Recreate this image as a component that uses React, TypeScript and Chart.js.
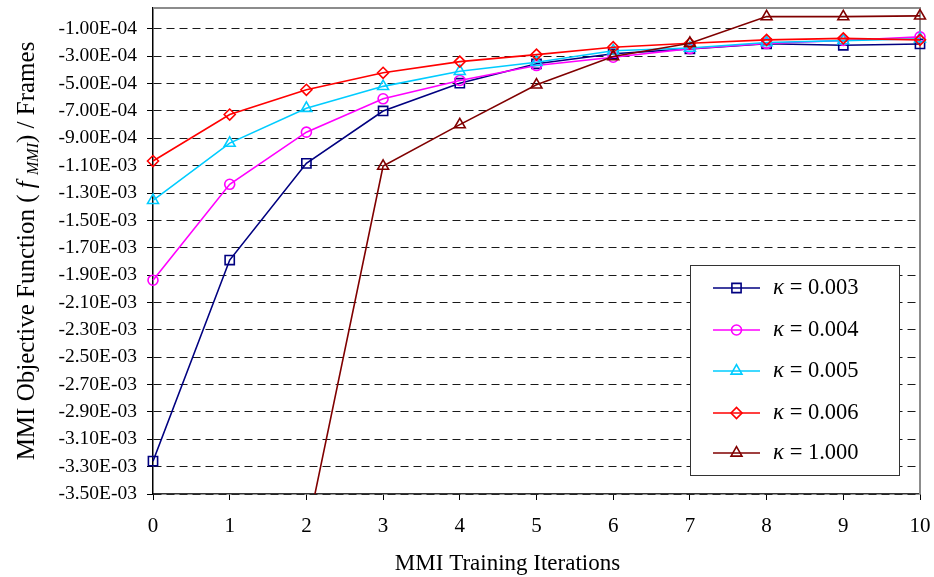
import React, { useEffect, useRef } from "react";
import { Chart, registerables } from "chart.js";

Chart.register(...registerables);

const FONT = "'Liberation Serif', 'Times New Roman', serif";

const iterations = ["0", "1", "2", "3", "4", "5", "6", "7", "8", "9", "10"];

const kappa003 = [-3.26e-3, -1.79e-3, -1.083e-3, -7.0e-4, -4.97e-4, -3.55e-4, -2.82e-4, -2.46e-4, -2.09e-4, -2.2e-4, -2.1e-4];
const kappa004 = [-1.937e-3, -1.236e-3, -8.55e-4, -6.11e-4, -4.77e-4, -3.68e-4, -3.07e-4, -2.44e-4, -2.07e-4, -1.85e-4, -1.58e-4];
const kappa005 = [-1.353e-3, -9.35e-4, -6.8e-4, -5.2e-4, -4.1e-4, -3.44e-4, -2.6e-4, -2.4e-4, -2.0e-4, -1.86e-4, -1.72e-4];
const kappa006 = [-1.066e-3, -7.26e-4, -5.45e-4, -4.21e-4, -3.39e-4, -2.88e-4, -2.34e-4, -2.05e-4, -1.8e-4, -1.69e-4, -1.8e-4];
const kappa1000 = [null, null, -3.8e-3, -1.103e-3, -8.0e-4, -5.09e-4, -3.02e-4, -2.05e-4, -1.0e-5, -1.0e-5, -5e-6];

const seriesKappas = ["0.003", "0.004", "0.005", "0.006", "1.000"];

const yTickValues = [
  -3.5e-3, -3.3e-3, -3.1e-3, -2.9e-3, -2.7e-3, -2.5e-3, -2.3e-3, -2.1e-3, -1.9e-3,
  -1.7e-3, -1.5e-3, -1.3e-3, -1.1e-3, -9e-4, -7e-4, -5e-4, -3e-4, -1e-4,
];

function formatSci(v: number): string {
  const [m, e] = v.toExponential(2).split("e");
  const n = parseInt(e, 10);
  return m + "E" + (n < 0 ? "-" : "+") + String(Math.abs(n)).padStart(2, "0");
}

function drawMarker(ctx: CanvasRenderingContext2D, style: string, x: number, y: number, r: number) {
  ctx.beginPath();
  if (style === "rect") {
    const s = Math.SQRT1_2 * r;
    ctx.rect(x - s, y - s, 2 * s, 2 * s);
  } else if (style === "circle") {
    ctx.arc(x, y, r, 0, Math.PI * 2);
  } else if (style === "triangle") {
    let rad = 0;
    ctx.moveTo(x + Math.sin(rad) * r, y - Math.cos(rad) * r);
    rad += (2 * Math.PI) / 3;
    ctx.lineTo(x + Math.sin(rad) * r, y - Math.cos(rad) * r);
    rad += (2 * Math.PI) / 3;
    ctx.lineTo(x + Math.sin(rad) * r, y - Math.cos(rad) * r);
    ctx.closePath();
  } else if (style === "rectRot") {
    ctx.moveTo(x - r, y);
    ctx.lineTo(x, y - r);
    ctx.lineTo(x + r, y);
    ctx.lineTo(x, y + r);
    ctx.closePath();
  }
  ctx.stroke();
}

const decorPlugin = {
  id: "decor",
  beforeDatasetsDraw(chart: any) {
    const { ctx, chartArea } = chart;
    ctx.save();
    ctx.strokeStyle = "#8c8c8c";
    ctx.lineWidth = 2;
    ctx.beginPath();
    ctx.moveTo(chartArea.left, chartArea.top);
    ctx.lineTo(chartArea.right, chartArea.top);
    ctx.lineTo(chartArea.right, chartArea.bottom);
    ctx.stroke();
    ctx.restore();
  },
  afterDraw(chart: any) {
    const { ctx } = chart;
    ctx.save();
    // Legend
    const bx = 690, by = 265, bw = 209, bh = 210;
    ctx.fillStyle = "#ffffff";
    ctx.fillRect(bx, by, bw, bh);
    ctx.strokeStyle = "#333";
    ctx.lineWidth = 1;
    ctx.strokeRect(bx + 0.5, by + 0.5, bw, bh);
    const rowYs = [288, 330, 371, 413, 453];
    chart.data.datasets.forEach((ds: any, i: number) => {
      const y = rowYs[i];
      ctx.strokeStyle = ds.borderColor;
      ctx.lineWidth = 1.6;
      ctx.beginPath();
      ctx.moveTo(713, y);
      ctx.lineTo(760, y);
      ctx.stroke();
      drawMarker(ctx, ds.pointStyle, 736.5, y, ds.pointRadius);
      ctx.fillStyle = "#000";
      ctx.textBaseline = "middle";
      ctx.textAlign = "left";
      ctx.font = `italic 23px ${FONT}`;
      ctx.fillText("\u03ba", 773, y);
      const kw = ctx.measureText("\u03ba").width;
      ctx.font = `22.5px ${FONT}`;
      ctx.fillText(" = " + seriesKappas[i], 773 + kw, y);
    });

    // X title
    ctx.fillStyle = "#000";
    ctx.font = `23px ${FONT}`;
    ctx.textAlign = "center";
    ctx.textBaseline = "alphabetic";
    ctx.fillText("MMI Training Iterations", 507.5, 570);

    // Y title (rotated, with italic subscript)
    const parts: [string, string, number][] = [
      ["MMI Objective Function ( ", `25px ${FONT}`, 0],
      ["f", `italic 25px ${FONT}`, 0],
      [" ", `25px ${FONT}`, 0],
      ["MMI", `italic 16px ${FONT}`, 4],
      [") / Frames", `25px ${FONT}`, 0],
    ];
    let total = 0;
    const widths = parts.map(([t, f]) => {
      ctx.font = f;
      const w = ctx.measureText(t).width;
      total += w;
      return w;
    });
    ctx.translate(34, 251);
    ctx.rotate(-Math.PI / 2);
    ctx.textAlign = "left";
    ctx.textBaseline = "alphabetic";
    let cx = -total / 2;
    parts.forEach(([t, f, dy], i) => {
      ctx.font = f;
      ctx.fillText(t, cx, dy);
      cx += widths[i];
    });
    ctx.restore();
  },
};

const seriesStyles = [
  { color: "#000080", style: "rect", r: 6.5 },
  { color: "#ff00ff", style: "circle", r: 5 },
  { color: "#00ccff", style: "triangle", r: 6.3 },
  { color: "#ff0000", style: "rectRot", r: 5.5 },
  { color: "#800000", style: "triangle", r: 6.3 },
];

export default function App() {
  const canvasRef = useRef<HTMLCanvasElement | null>(null);

  useEffect(() => {
    if (!canvasRef.current) return;
    const allSeries = [kappa003, kappa004, kappa005, kappa006, kappa1000];
    const chart = new Chart(canvasRef.current, {
      type: "line",
      data: {
        labels: iterations,
        datasets: allSeries.map((data, i) => ({
          label: "\u03ba = " + seriesKappas[i],
          data,
          borderColor: seriesStyles[i].color,
          backgroundColor: "rgba(0,0,0,0)",
          borderWidth: 1.6,
          pointStyle: seriesStyles[i].style,
          pointRadius: seriesStyles[i].r,
          pointBorderWidth: 1.6,
          pointBorderColor: seriesStyles[i].color,
          pointBackgroundColor: "rgba(0,0,0,0)",
          tension: 0,
          order: allSeries.length - i,
          clip: { left: 12, right: 12, top: 12, bottom: 0 },
        })) as any,
      },
      options: {
        animation: false,
        responsive: true,
        maintainAspectRatio: false,
        layout: { padding: { left: 0, top: 7.5, right: 14, bottom: 0 } },
        plugins: {
          legend: { display: false },
          tooltip: { enabled: false },
        },
        scales: {
          x: {
            type: "category",
            offset: false,
            afterFit: (s: any) => {
              s.height = 83;
              s.paddingLeft = 0;
              s.paddingRight = 0;
            },
            grid: {
              display: true,
              drawOnChartArea: false,
              drawTicks: true,
              tickLength: 6,
              tickColor: "#000",
              tickWidth: 1,
            },
            border: { display: true, color: "#333", width: 1.5 },
            ticks: {
              color: "#000",
              font: { family: FONT, size: 21 },
              padding: 14,
              maxRotation: 0,
              autoSkip: false,
            },
          },
          y: {
            type: "linear",
            min: -3.5e-3,
            max: 5.2e-5,
            afterFit: (s: any) => {
              s.width = 153;
              s.paddingTop = 0;
              s.paddingBottom = 0;
            },
            afterBuildTicks: (s: any) => {
              s.ticks = yTickValues.map((value) => ({ value }));
            },
            grid: {
              display: true,
              color: "#1a1a1a",
              lineWidth: 1,
              drawTicks: true,
              tickLength: 6,
              tickColor: "#000",
              tickWidth: 1,
              tickBorderDash: [],
            },
            border: { display: true, color: "#000", width: 1.5, dash: [8, 5] },
            ticks: {
              color: "#000",
              font: { family: FONT, size: 19.5 },
              padding: 10,
              callback: (v: any) => formatSci(Number(v)),
            },
          },
        },
      },
      plugins: [decorPlugin],
    });
    return () => chart.destroy();
  }, []);

  return (
    <div style={{ position: "fixed", left: 0, top: 0, width: 934, height: 577, background: "#fff" }}>
      <canvas ref={canvasRef} />
    </div>
  );
}
